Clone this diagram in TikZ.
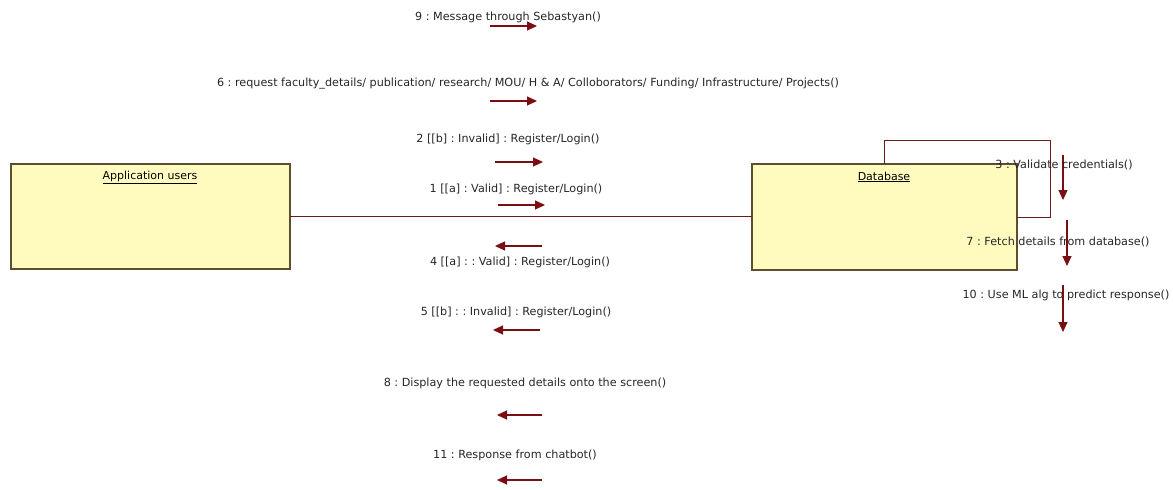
\documentclass[tikz,border=0pt]{standalone}
\usepackage{fontspec}
\setmainfont{DejaVu Sans}
\usetikzlibrary{arrows.meta}
\definecolor{boxfill}{HTML}{FFFBBF}
\definecolor{boxdraw}{HTML}{5E4E30}
\definecolor{msg}{HTML}{7A0E12}
\definecolor{link}{HTML}{6E1A1A}
\tikzset{
  objbox/.style={draw=boxdraw, fill=boxfill, line width=1.1pt},
  objtitle/.style={font=\fontsize{11}{13}\selectfont, inner sep=0pt},
  lbl/.style={font=\fontsize{11.2}{13}\selectfont, inner sep=0pt, text=black!85},
  msgarrow/.style={draw=msg, line width=1.2pt, -{Triangle[length=10pt,width=9pt]}},
  linkline/.style={draw=link, line width=0.9pt}
}
\frenchspacing
\begin{document}
\begin{tikzpicture}[x=1pt,y=-1pt]
\useasboundingbox (0,0) rectangle (1173,490);
% objects
\draw[objbox] (11,164) rectangle (290,269);
\node[objtitle] (appt) at (150,177) {\underline{Application users}};
\coordinate (appR) at (290,216);
\draw[objbox] (752,164) rectangle (1017,270);
\node[objtitle] (dbt) at (884,177) {\underline{Database}};
\coordinate (dbL) at (752,216);
\coordinate (dbT) at (884,164);
\coordinate (dbR) at (1017,217);
% links
\draw[linkline] (appR) -- (dbL);
\draw[linkline] (dbT) -- (884,140) -- (1050,140) -- (1050,217) -- (dbR);
% messages (left-right)
\node[lbl] (m9) at (508,17) {9 : Message through Sebastyan()};
\draw[msgarrow] (490,26) -- (537,26);
\node[lbl] (m6) at (528,84) {6 : request faculty\_details/ publication/ research/ MOU/ H \& A/ Colloborators/ Funding/ Infrastructure/ Projects()};
\draw[msgarrow] (490,101) -- (537,101);
\node[lbl] (m2) at (508,139) {2 [[b] : Invalid] : Register/Login()};
\draw[msgarrow] (495,162) -- (543,162);
\node[lbl] (m1) at (516,189) {1 [[a] : Valid] : Register/Login()};
\draw[msgarrow] (498,205) -- (545,205);
\draw[msgarrow] (542,246) -- (495,246);
\node[lbl] (m4) at (520,262) {4 [[a] : : Valid] : Register/Login()};
\node[lbl] (m5) at (516,312) {5 [[b] : : Invalid] : Register/Login()};
\draw[msgarrow] (540,330) -- (493,330);
\node[lbl] (m8) at (525,383) {8 : Display the requested details onto the screen()};
\draw[msgarrow] (542,415) -- (497,415);
\node[lbl] (m11) at (515,455) {11 : Response from chatbot()};
\draw[msgarrow] (542,480) -- (497,480);
% self messages
\draw[msgarrow] (1063,155) -- (1063,200);
\node[lbl] (m3) at (1064,165) {3 : Validate credentials()};
\draw[msgarrow] (1067,220) -- (1067,266);
\node[lbl] (m7) at (1058,242) {7 : Fetch details from database()};
\draw[msgarrow] (1063,285) -- (1063,332);
\node[lbl] (m10) at (1066,295) {10 : Use ML alg to predict response()};
\end{tikzpicture}
\end{document}
